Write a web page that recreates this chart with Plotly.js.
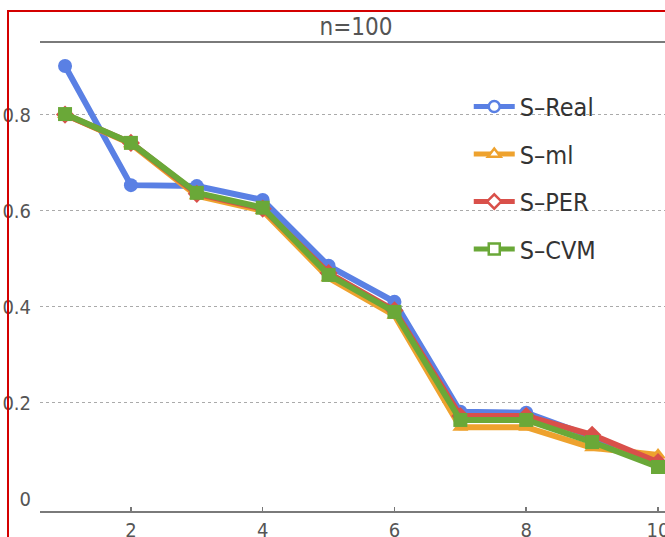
<!DOCTYPE html>
<html>
<head>
<meta charset="utf-8">
<script src="https://cdn.plot.ly/plotly-3.0.1.min.js"></script>
<style>
  html, body { margin: 0; padding: 0; width: 665px; height: 537px; overflow: hidden; background: #fff; }
  #chart { position: absolute; left: 0; top: 0; width: 665px; height: 537px; }
  #frame { position: absolute; left: 7px; top: 10px; width: 900px; height: 900px; border: 2px solid #d40000; pointer-events: none; }
</style>
</head>
<body>
<div id="chart"></div>
<div id="frame"></div>
<script>
const xs = [1, 2, 3, 4, 5, 6, 7, 8, 9, 10];
const seriesNames = ["S\u2013Real", "S\u2013ml", "S\u2013PER", "S\u2013CVM"];
const sReal = [0.901, 0.653, 0.651, 0.622, 0.485, 0.410, 0.181, 0.179, 0.129, 0.068];
const sMl   = [0.800, 0.739, 0.631, 0.600, 0.460, 0.382, 0.149, 0.149, 0.106, 0.091];
const sPer  = [0.800, 0.741, 0.635, 0.604, 0.470, 0.392, 0.172, 0.172, 0.133, 0.076];
const sCvm  = [0.801, 0.741, 0.637, 0.606, 0.466, 0.389, 0.164, 0.164, 0.118, 0.066];
const xTicks = [2, 4, 6, 8, 10];
const yTicks = [0, 0.2, 0.4, 0.6, 0.8];
const yTickText = ["0", "0.2", "0.4", "0.6", "0.8"];
const titleText = "n=100";

const colors = ["#5a80e4", "#eea22e", "#d9504a", "#6aa838"];
const symbols = ["circle", "triangle-up", "diamond", "square"];
const allY = [sReal, sMl, sPer, sCvm];
const FONT = "'Liberation Sans Narrow', 'DejaVu Sans Condensed', 'Arial Narrow', sans-serif";

const traces = [];
allY.forEach((ys, i) => {
  traces.push({
    x: xs, y: ys, type: "scatter", mode: "lines+markers",
    line: { color: colors[i], width: 6 },
    marker: { color: colors[i], size: 14, symbol: symbols[i], line: { width: 0 } },
    showlegend: false, hoverinfo: "skip"
  });
});
allY.forEach((ys, i) => {
  traces.push({
    x: [null], y: [null], type: "scatter", mode: "lines+markers",
    name: seriesNames[i], legendgroup: "g" + i,
    line: { color: colors[i], width: 5 },
    marker: { color: "#ffffff", size: 11, symbol: symbols[i], line: { color: colors[i], width: 2.5 } }
  });
});

const layout = {
  width: 665, height: 537,
  margin: { l: 40, r: 0, t: 43, b: 26, pad: 0 },
  paper_bgcolor: "#ffffff", plot_bgcolor: "#ffffff",
  font: { family: FONT, color: "#555" },
  title: {
    text: titleText, font: { family: FONT, size: 24, color: "#555" },
    x: 0.5056, xref: "paper", xanchor: "center",
    y: 0.95, yref: "container", yanchor: "middle"
  },
  xaxis: {
    range: [0.62, 10.106], tickvals: xTicks, ticks: "inside", ticklen: 4,
    tickcolor: "#777", tickwidth: 1.5, showline: true, linecolor: "#7a7a7a", linewidth: 2,
    mirror: true, showgrid: false, zeroline: false,
    tickfont: { family: FONT, size: 20, color: "#555" },
    ticklabeloverflow: "allow", fixedrange: true
  },
  yaxis: {
    range: [-0.0256, 0.949], tickvals: yTicks, ticktext: yTickText,
    ticks: "outside", ticklen: 4, tickcolor: "rgba(0,0,0,0)",
    showline: false, showgrid: true, gridcolor: "#aaaaaa", gridwidth: 1, griddash: "dot",
    zeroline: true, zerolinecolor: "rgba(0,0,0,0)", zerolinewidth: 1,
    tickfont: { family: FONT, size: 20, color: "#555" }, fixedrange: true
  },
  legend: {
    x: 0.686, xanchor: "left", y: 0.913, yanchor: "top",
    bgcolor: "rgba(255,255,255,0)", borderwidth: 0,
    font: { family: FONT, size: 25, color: "#333" },
    tracegroupgap: 12, itemwidth: 41
  },
  showlegend: true
};

Plotly.newPlot("chart", traces, layout, { displayModeBar: false, staticPlot: true });
</script>
</body>
</html>
